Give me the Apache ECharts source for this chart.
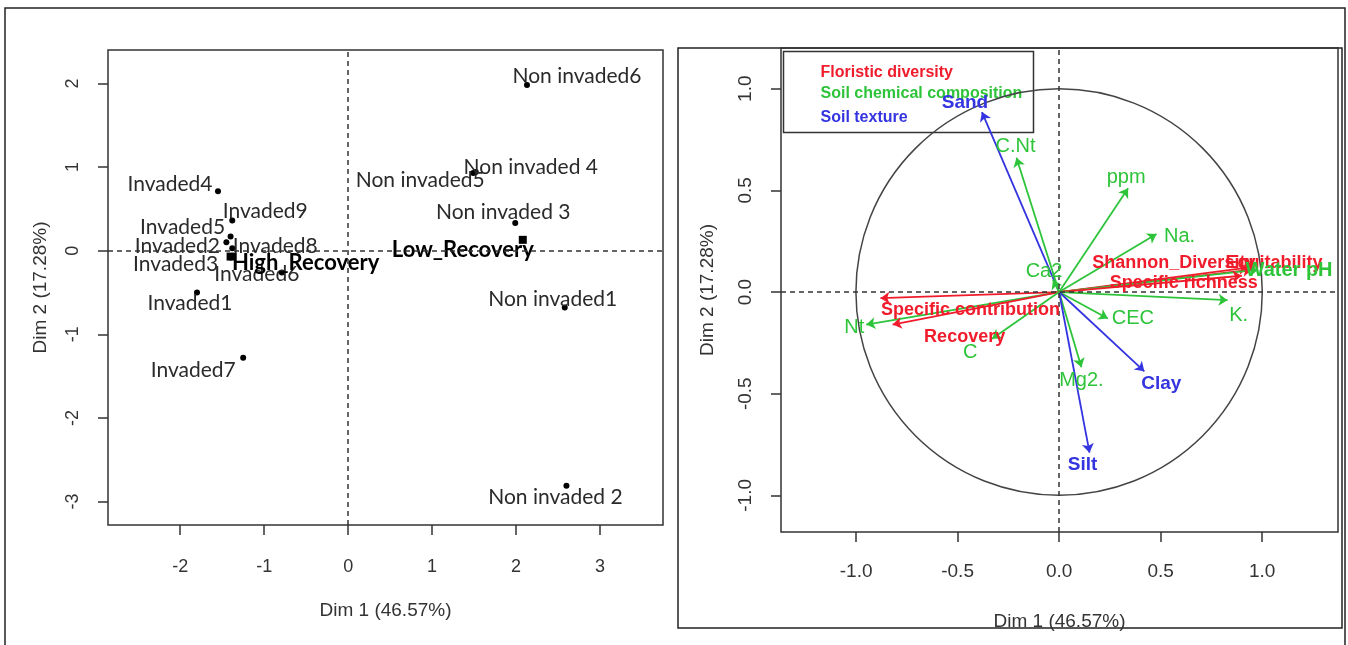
<!DOCTYPE html>
<html>
<head>
<meta charset="utf-8">
<script src="https://cdn.jsdelivr.net/npm/echarts@6/dist/echarts.min.js"></script>
<style>
html,body{margin:0;padding:0;background:#fff;}
#chart{width:1348px;height:645px;}
</style>
</head>
<body>
<div id="chart"></div>
<script>
// ---------- Individuals factor map (left) ----------
const indNames = ['Invaded4','Invaded9','Invaded5','Invaded2','Invaded8','Invaded3','Invaded6','Invaded1','Invaded7',
                  'Non invaded6','Non invaded5','Non invaded 4','Non invaded 3','Non invaded1','Non invaded 2'];
const indX = [-1.55,-1.38,-1.40,-1.45,-1.38,-1.40,-0.79,-1.80,-1.25, 2.13,1.49,1.52,1.99,2.58,2.60];
const indY = [ 0.71, 0.36, 0.17, 0.10, 0.03,-0.08,-0.26,-0.50,-1.28, 1.98,0.93,0.94,0.33,-0.68,-2.81];

const supNames = ['High_Recovery','Low_Recovery'];
const supX = [-1.40, 2.08];
const supY = [-0.07, 0.13];

const indXTicks = [-2,-1,0,1,2,3];
const indYTicks = [-3,-2,-1,0,1,2];

// ---------- Variables factor map (right) ----------
const varNames = ['Sand','C.Nt','ppm','Na.','Shannon_Diversity','Equitability','Water pH','Specific richness',
                  'K.','CEC','Clay','Mg2.','Silt','Ca2','Specific contribution','Nt','Recovery','C'];
const varX = [-0.38,-0.21,0.34,0.48,0.93,0.95,0.98,0.90, 0.83, 0.24, 0.42, 0.11, 0.15,-0.03,-0.88,-0.95,-0.82,-0.33];
const varY = [ 0.885,0.66,0.51,0.285,0.12,0.11,0.11,0.08,-0.04,-0.13,-0.39,-0.37,-0.79,0.06,-0.03,-0.16,-0.16,-0.23];
const varGroup = ['Soil texture','Soil chemical composition','Soil chemical composition','Soil chemical composition',
                  'Floristic diversity','Floristic diversity','Soil chemical composition','Floristic diversity',
                  'Soil chemical composition','Soil chemical composition','Soil texture','Soil chemical composition',
                  'Soil texture','Soil chemical composition','Floristic diversity','Soil chemical composition',
                  'Floristic diversity','Soil chemical composition'];
const groupNames = ['Floristic diversity','Soil chemical composition','Soil texture'];
const varTicks = [-1.0,-0.5,0.0,0.5,1.0];

// ---------- styling / layout ----------
const groupColor = {'Floristic diversity':'#f01c2c','Soil chemical composition':'#2ec43a','Soil texture':'#3434e0'};
const groupLabelFont = {'Floristic diversity':{size:18,weight:'bold'},'Soil chemical composition':{size:20,weight:'normal'},'Soil texture':{size:19,weight:'bold'}};
const boldVars = {'Water pH':true};
const indLabelOffset = {
  'Invaded4':[-48,-7],'Invaded9':[33,-9],'Invaded5':[-48,-9],'Invaded2':[-49,4],'Invaded8':[43,-2],
  'Invaded3':[-55,7],'Invaded6':[-25,2],'Invaded1':[-7,11],'Invaded7':[-50,12],
  'Non invaded6':[50,-9],'Non invaded5':[-53,7],'Non invaded 4':[55,-5],'Non invaded 3':[-12,-11],
  'Non invaded1':[-12,-8],'Non invaded 2':[-11,12],
  'High_Recovery':[75,6],'Low_Recovery':[-60,10]
};
const varLabelOffset = {
  'Sand':[-17,-9],'C.Nt':[-1,-11],'ppm':[-2,-11],'Na.':[23,2],'Shannon_Diversity':[-74,-5],'Equitability':[22,-7],
  'Water pH':[31,1],'Specific richness':[-58,7],'K.':[11,15],'CEC':[25,0],'Clay':[17,12],'Mg2.':[0,13],
  'Silt':[-7,12],'Ca2':[-9,-8],'Specific contribution':[90,12],'Nt':[-12,3],'Recovery':[72,12],'C':[-22,14]
};

const axisFont = "'Liberation Sans Narrow','Liberation Sans',Arial,sans-serif";
const ptFont = "Lato,'Open Sans',sans-serif";
const ink = '#333';

function valueAxis(grid, min, max, ticks, opts) {
  return Object.assign({
    gridIndex: grid, type: 'value', min: min, max: max,
    splitLine: {show:false},
    axisLine: {show:false, onZero:false},
    axisTick: {show:true, inside:false, length:10, customValues: ticks, lineStyle:{color:ink, width:1.5}},
    nameTextStyle: {fontFamily: axisFont, fontSize: 19, color: ink},
    nameLocation: 'middle'
  }, opts);
}

const indData = indNames.map((n,i)=>({
  value:[indX[i], indY[i]], name:n,
  label:{offset: indLabelOffset[n]}
}));
const supData = supNames.map((n,i)=>({
  value:[supX[i], supY[i]], name:n,
  label:{offset: indLabelOffset[n]}
}));

const arrowData = varNames.map((n,i)=>({
  coords:[[0,0],[varX[i], varY[i]]],
  lineStyle:{color: groupColor[varGroup[i]]}
}));
const varLabelData = varNames.map((n,i)=>{
  const g = varGroup[i];
  return {
    value:[varX[i], varY[i]], name:n,
    label:{offset: varLabelOffset[n], color: groupColor[g],
      fontSize: groupLabelFont[g].size,
      fontWeight: boldVars[n] ? 'bold' : groupLabelFont[g].weight}
  };
});

const dashLine = {
  silent:true, symbol:'none', label:{show:false},
  lineStyle:{color:'#333', type:[5,4], width:1.5},
  data:[{xAxis:0},{yAxis:0}]
};

const chart = echarts.init(document.getElementById('chart'), null, {renderer:'canvas'});
chart.setOption({
  backgroundColor:'#fff',
  animation:false,
  grid:[
    {left:108, top:50, width:555, height:475, show:true, borderColor:ink, borderWidth:1.5, backgroundColor:'transparent'},
    {left:781, top:48, width:557, height:484, show:true, borderColor:ink, borderWidth:1.5, backgroundColor:'transparent'}
  ],
  xAxis:[
    valueAxis(0, -2.86, 3.75, indXTicks, {
      name:'Dim 1 (46.57%)', nameGap:76,
      axisLabel:{customValues:indXTicks, margin:33, fontFamily:axisFont, fontSize:18, color:ink}
    }),
    valueAxis(1, -1.37, 1.374, varTicks, {
      name:'Dim 1 (46.57%)', nameGap:80,
      axisLabel:{customValues:varTicks, margin:30, fontFamily:axisFont, fontSize:19, color:ink,
        formatter:v=>v.toFixed(1)}
    })
  ],
  yAxis:[
    valueAxis(0, -3.28, 2.40, indYTicks, {
      name:'Dim 2 (17.28%)', nameGap:58,
      axisLabel:{customValues:indYTicks, margin:26, rotate:90, fontFamily:axisFont, fontSize:18, color:ink}
    }),
    valueAxis(1, -1.18, 1.20, varTicks, {
      name:'Dim 2 (17.28%)', nameGap:64,
      axisLabel:{customValues:varTicks, margin:26, rotate:90, fontFamily:axisFont, fontSize:19, color:ink,
        formatter:v=>v.toFixed(1)}
    })
  ],
  graphic:[
    {type:'rect', silent:true, shape:{x:5, y:8, width:1340, height:660}, style:{fill:'none', stroke:'#222', lineWidth:1.5}, z:-1},
    {type:'rect', silent:true, shape:{x:678, y:48, width:664, height:580}, style:{fill:'none', stroke:'#222', lineWidth:1.5}, z:-1},
    {type:'group', left:781, top:49, z:100, children:[
      {type:'rect', shape:{x:0, y:0, width:250, height:81}, style:{fill:'none', stroke:ink, lineWidth:1.5}},
      ...groupNames.map((g,i)=>({
        type:'text', x:37, y:[21,42,66][i],
        style:{text:g, fill:groupColor[g], font:"bold 16px 'Liberation Sans Narrow','Liberation Sans',Arial,sans-serif", textVerticalAlign:'middle'}
      }))
    ]}
  ],
  series:[
    {
      type:'scatter', xAxisIndex:0, yAxisIndex:0, data:indData,
      symbol:'circle', symbolSize:6, itemStyle:{color:'#000', opacity:1},
      label:{show:true, position:'inside', formatter:'{b}', fontFamily:ptFont, fontSize:21, color:'#2a2a2a'},
      markLine: dashLine, z:3
    },
    {
      type:'scatter', xAxisIndex:0, yAxisIndex:0, data:supData,
      symbol:'rect', symbolSize:8, itemStyle:{color:'#000', opacity:1},
      label:{show:true, position:'inside', formatter:'{b}', fontFamily:ptFont, fontWeight:'bold', fontSize:22, color:'#000'},
      z:4
    },
    {
      type:'custom', xAxisIndex:1, yAxisIndex:1, data:[[0,0]], silent:true, clip:true,
      renderItem:(params, api)=>{
        const c = api.coord([0,0]);
        const s = api.size([1,1]);
        return {type:'circle', shape:{cx:c[0], cy:c[1], r:(s[0]+s[1])/2},
          style:{fill:'none', stroke:'#444', lineWidth:1.5}};
      },
      markLine: dashLine, z:2
    },
    {
      type:'lines', coordinateSystem:'cartesian2d', xAxisIndex:1, yAxisIndex:1,
      data:arrowData, symbol:['none','arrow'], symbolSize:9,
      lineStyle:{width:1.8, opacity:1}, silent:true, z:3
    },
    {
      type:'scatter', xAxisIndex:1, yAxisIndex:1, data:varLabelData,
      symbolSize:1, itemStyle:{color:'rgba(0,0,0,0)', opacity:1}, silent:true,
      label:{show:true, position:'inside', formatter:'{b}', fontFamily:"'Liberation Sans',Arial,sans-serif"},
      z:5
    }
  ]
});
</script>
</body>
</html>
